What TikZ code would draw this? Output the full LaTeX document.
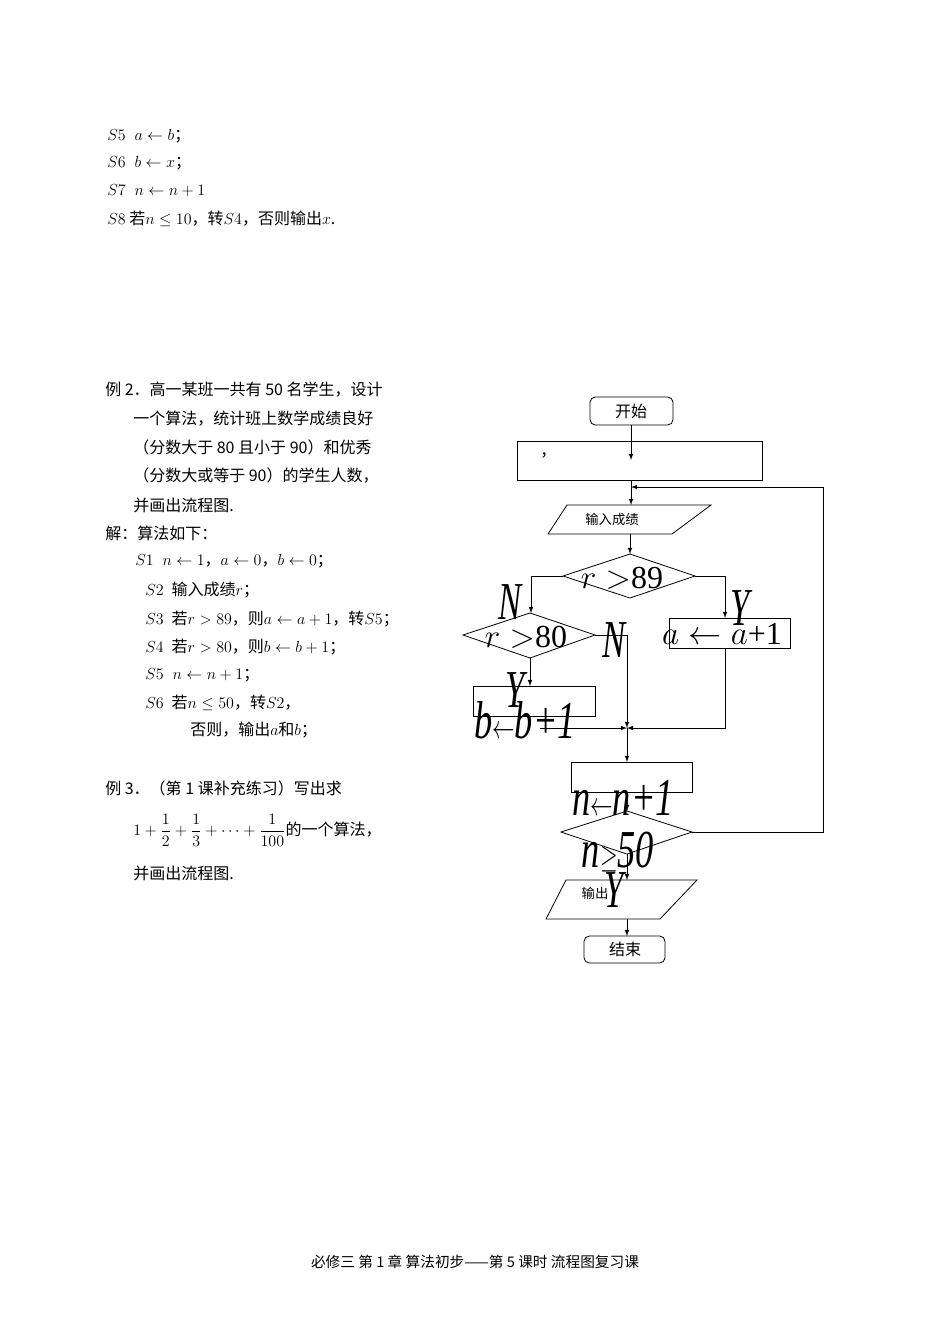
\documentclass[tikz,border=0pt]{standalone}
\usepackage{fontspec}
\setmainfont{Liberation Serif}
\newfontfamily\cjk{Noto Sans CJK SC}
\usetikzlibrary{shapes.geometric}
\begin{document}
\begin{tikzpicture}[x=0.75pt,y=-0.75pt,
 txt/.style={anchor=west,inner sep=0,font=\cjk\fontsize{12}{14}\selectfont},
 box/.style={draw,line width=0.6pt},
 arr/.style={-latex,line width=0.6pt},
 ln/.style={line width=0.6pt},
 big/.style={inner sep=0,font=\fontsize{40}{40}\selectfont\itshape,xscale=0.65},
 mid/.style={inner sep=0,font=\fontsize{24}{24}\selectfont}]
\useasboundingbox (0,0) rectangle (950,1342);
% top text
\node[txt] (t1) at (107,136) {$S5\;\; a\leftarrow b$；};
\node[txt] (t2) at (107,163) {$S6\;\; b\leftarrow x$；};
\node[txt] (t3) at (107,191) {$S7\;\; n\leftarrow n+1$};
\node[txt] (t4) at (107,219) {$S8$ 若$n\le 10$，转$S4$，否则输出$x$.};
% example 2
\node[txt] (e1) at (105,390) {例 2．高一某班一共有 50 名学生，设计};
\node[txt] (e2) at (133,419) {一个算法，统计班上数学成绩良好};
\node[txt] (e3) at (133,447) {（分数大于 80 且小于 90）和优秀};
\node[txt] (e4) at (133,476) {（分数大或等于 90）的学生人数，};
\node[txt] (e5) at (133,505) {并画出流程图.};
\node[txt] (e6) at (105,533) {解：算法如下：};
\node[txt] (s1) at (135,561) {$S1\;\; n\leftarrow 1$，$a\leftarrow 0$，$b\leftarrow 0$；};
\node[txt] (s2) at (145,590) {$S2$\; 输入成绩$r$；};
\node[txt] (s3) at (145,619) {$S3$\; 若$r>89$，则$a\leftarrow a+1$，转$S5$；};
\node[txt] (s4) at (145,647) {$S4$\; 若$r>80$，则$b\leftarrow b+1$；};
\node[txt] (s5) at (145,675) {$S5\;\; n\leftarrow n+1$；};
\node[txt] (s6) at (145,703) {$S6$\; 若$n\le 50$，转$S2$，};
\node[txt] (s7) at (190,730) {否则，输出$a$和$b$；};
% example 3
\node[txt] (x1) at (105,788) {例 3．（第 1 课补充练习）写出求};
\node[txt] (x2) at (133,830) {$\displaystyle 1+\frac{1}{2}+\frac{1}{3}+\cdots+\frac{1}{100}$的一个算法，};
\node[txt] (x3) at (133,873) {并画出流程图.};
\node[inner sep=0,font=\cjk\fontsize{11}{13}\selectfont] (foot) at (475,1262) {必修三\ 第 1 章\ 算法初步——第 5 课时 流程图复习课};
% flowchart
\draw[box,rounded corners=4pt] (590,397) rectangle (673,425);
\node[txt,anchor=center] (start) at (631,411) {开始};
\draw[box] (517,441) rectangle (762,480);
\node[txt] (comma) at (540,455) {，};
\draw[arr] (631,425) -- (631,460);
\draw[ln] (631,441) -- (631,425);
\draw[box] (567,505) -- (711,505) -- (672,534) -- (548,534) -- cycle;
\node[txt,anchor=center,font=\cjk\fontsize{10}{12}\selectfont] (inp) at (612,519) {输入成绩};
\draw[arr] (631,480) -- (631,505);
% diamond 1
\draw[box] (563,576) -- (630,554) -- (695,576) -- (630,598) -- cycle;
\node[mid] (d1) at (622,578) {$r>$89};
\draw[arr] (630,534) -- (630,554);
\draw[arr] (563,576) -- (531,576) -- (531,613);
\node[big] (n1) at (510,602) {N};
\draw[arr] (695,576) -- (725,576) -- (725,618);
\node[big] (y1) at (740,608) {Y};
% diamond 2
\draw[box] (463,635) -- (530,613) -- (595,635) -- (530,658) -- cycle;
\node[mid] (d2) at (526,637) {$r>$80};
\node[big] (n2) at (614,640) {N};
\draw[box] (669,618) rectangle (790,648);
\node[mid] (ra) at (722,634) {$a\leftarrow a$+1};
\draw[arr] (530,658) -- (530,686);
\node[big] (y2) at (515,690) {Y};
\draw[box] (473,686) rectangle (595,716);
\node[big,xscale=1.05] (rb) at (525,720) {b$\leftarrow$b+1};
\draw[arr] (595,635) -- (627,635) -- (627,728);
\draw[arr] (725,648) -- (725,728) -- (627,728);
\draw[arr] (540,728) -- (627,728);
\draw[arr] (627,728) -- (627,762);
\draw[box] (571,762) rectangle (692,792);
\node[big,xscale=1.05] (rn) at (623,798) {n$\leftarrow$n+1};
\draw[arr] (627,792) -- (627,811);
% diamond 3
\draw[box] (561,832) -- (627,811) -- (692,832) -- (627,854) -- cycle;
\node[big,xscale=1.05] (d3) at (618,852) {n$\geq$50};
\draw[arr] (692,832) -- (823,832) -- (823,487) -- (631,487);
\draw[arr] (627,854) -- (627,880);
\node[big] (y3) at (614,890) {Y};
\draw[box] (566,880) -- (697,880) -- (660,919) -- (546,919) -- cycle;
\node[txt,anchor=center,font=\cjk\fontsize{10}{12}\selectfont] (out) at (595,893) {输出};
\draw[arr] (627,919) -- (627,936);
\draw[box,rounded corners=4pt] (584,936) rectangle (665,963);
\node[txt,anchor=center] (end) at (625,949) {结束};
\end{tikzpicture}
\end{document}
